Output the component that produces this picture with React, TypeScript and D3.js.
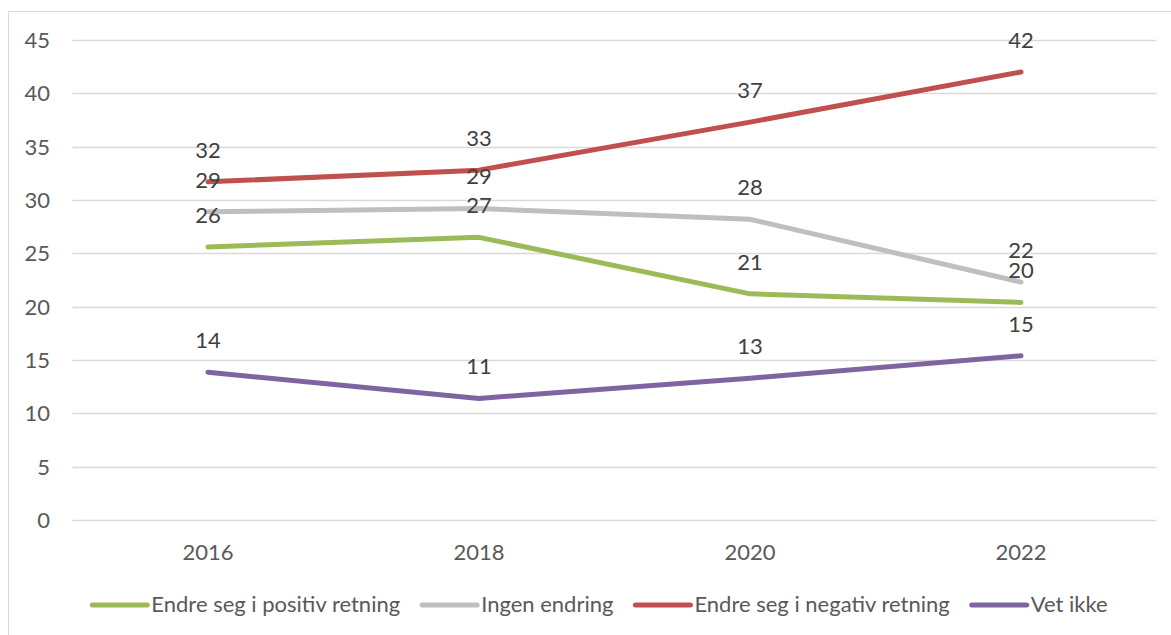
import React, { useEffect, useRef } from 'react';
import * as d3 from 'd3';

const years = ['2016', '2018', '2020', '2022'];
const seriesNames = [
  'Endre seg i positiv retning',
  'Ingen endring',
  'Endre seg i negativ retning',
  'Vet ikke',
];
const positiv = [25.6, 26.5, 21.2, 20.4];
const ingen = [28.9, 29.2, 28.2, 22.3];
const negativ = [31.7, 32.8, 37.3, 42.0];
const vetIkke = [13.85, 11.4, 13.3, 15.4];
const labelsPositiv = ['26', '27', '21', '20'];
const labelsIngen = ['29', '29', '28', '22'];
const labelsNegativ = ['32', '33', '37', '42'];
const labelsVetIkke = ['14', '11', '13', '15'];
const yTicks = [0, 5, 10, 15, 20, 25, 30, 35, 40, 45];

const colors = ['#9BBB59', '#BFBFBF', '#C0504D', '#8064A2'];
const FONT = 'Lato, "Open Sans", sans-serif';
const FS = '22px';

const App = () => {
  const ref = useRef<SVGSVGElement>(null);

  useEffect(() => {
    const svg = d3.select(ref.current);
    svg.selectAll('*').remove();

    const series = [
      { name: seriesNames[0], values: positiv, labels: labelsPositiv, color: colors[0] },
      { name: seriesNames[1], values: ingen, labels: labelsIngen, color: colors[1] },
      { name: seriesNames[2], values: negativ, labels: labelsNegativ, color: colors[2] },
      { name: seriesNames[3], values: vetIkke, labels: labelsVetIkke, color: colors[3] },
    ];

    // chart border
    svg
      .append('rect')
      .attr('x', 8.5)
      .attr('y', 11.5)
      .attr('width', 1250)
      .attr('height', 700)
      .attr('fill', '#fff')
      .attr('stroke', '#D9D9D9');

    const x = d3.scaleBand().domain(years).range([72.5, 1156.5]);
    const y = d3.scaleLinear().domain([0, 45]).range([520, 40]);
    const cx = (d: string) => (x(d) as number) + x.bandwidth() / 2;

    // grid
    svg
      .append('g')
      .selectAll('line')
      .data(yTicks)
      .enter()
      .append('line')
      .attr('x1', 72.5)
      .attr('x2', 1156.5)
      .attr('y1', (d) => Math.round(y(d)) + 0.5)
      .attr('y2', (d) => Math.round(y(d)) + 0.5)
      .attr('stroke', '#D9D9D9')
      .attr('stroke-width', 1.5);

    // y tick labels
    svg
      .append('g')
      .selectAll('text')
      .data(yTicks)
      .enter()
      .append('text')
      .attr('x', 50)
      .attr('y', (d) => y(d))
      .attr('dy', '0.36em')
      .attr('text-anchor', 'end')
      .style('font-family', FONT)
      .style('font-size', FS)
      .attr('fill', '#595959')
      .text((d) => d);

    // x tick labels
    svg
      .append('g')
      .selectAll('text')
      .data(years)
      .enter()
      .append('text')
      .attr('x', (d) => cx(d))
      .attr('y', 552)
      .attr('dy', '0.36em')
      .attr('text-anchor', 'middle')
      .style('font-family', FONT)
      .style('font-size', FS)
      .attr('fill', '#595959')
      .text((d) => d);

    const line = d3
      .line<number>()
      .x((_, i) => cx(years[i]))
      .y((d) => y(d));

    series.forEach((s) => {
      svg
        .append('path')
        .datum(s.values)
        .attr('d', line)
        .attr('fill', 'none')
        .attr('stroke', s.color)
        .attr('stroke-width', 5)
        .attr('stroke-linecap', 'round')
        .attr('stroke-linejoin', 'round');
    });

    // data labels
    series.forEach((s) => {
      svg
        .append('g')
        .selectAll('text')
        .data(s.values)
        .enter()
        .append('text')
        .attr('x', (_, i) => cx(years[i]))
        .attr('y', (d) => y(d) - 32)
        .attr('dy', '0.36em')
        .attr('text-anchor', 'middle')
        .style('font-family', FONT)
        .style('font-size', FS)
        .attr('fill', '#404040')
        .text((_, i) => s.labels[i]);
    });

    // legend
    const legend = svg.append('g');
    const items = series.map((s) => {
      const g = legend.append('g');
      g.append('line')
        .attr('x1', 0)
        .attr('x2', 55)
        .attr('y1', 605)
        .attr('y2', 605)
        .attr('stroke', s.color)
        .attr('stroke-width', 5)
        .attr('stroke-linecap', 'round');
      const t = g
        .append('text')
        .attr('x', 59)
        .attr('y', 604)
        .attr('dy', '0.36em')
        .style('font-family', FONT)
        .style('font-size', FS)
        .attr('fill', '#595959')
        .text(s.name);
      const w = (t.node() as SVGTextElement).getComputedTextLength();
      return { g, w: 59 + w };
    });
    const gap = 22;
    const total = d3.sum(items, (d) => d.w) + gap * (items.length - 1);
    let pos = 600 - total / 2;
    items.forEach((it) => {
      it.g.attr('transform', `translate(${pos},0)`);
      pos += it.w + gap;
    });
  }, []);

  return (
    <svg
      ref={ref}
      width={1171}
      height={635}
      style={{ position: 'absolute', left: 0, top: 0, background: '#fff' }}
    ></svg>
  );
};

export default App;
